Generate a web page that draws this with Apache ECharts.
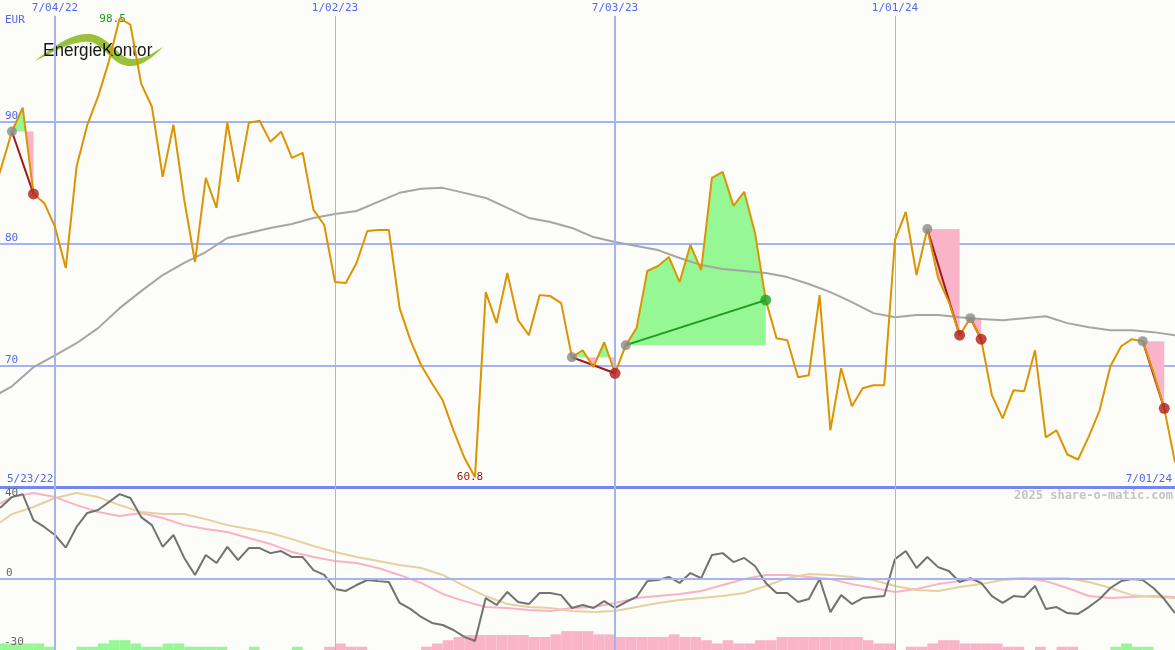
<!DOCTYPE html>
<html><head><meta charset="utf-8">
<script src="https://cdn.jsdelivr.net/npm/echarts@6/dist/echarts.min.js"></script>
<style>html,body{margin:0;padding:0;background:#fcfdf9}#c{width:1175px;height:650px}</style>
</head><body><div id="c"></div>
<script>
// ---------- DATA ----------
// weekly closing prices (EUR), first week 2022-05-23, last week 2024-07-01
const price = [83.6, 86.2, 89.2, 91.15, 84.07, 83.33, 81.36, 77.98, 86.3, 89.75,
 92.06, 94.94, 98.5, 97.98, 93.13, 91.23, 85.47, 89.75, 83.58, 78.48,
 85.39, 82.92, 89.92, 85.06, 89.92, 90.08, 88.35, 89.18, 87.04, 87.45,
 82.76, 81.52, 76.83, 76.75, 78.4, 81.03, 81.11, 81.11, 74.69, 72.06,
 70.0, 68.52, 67.12, 64.65, 62.43, 60.8, 76.01, 73.46, 77.57, 73.7,
 72.47, 75.76, 75.68, 75.1, 70.66, 71.23, 69.84, 71.89, 69.34, 71.65,
 73.05, 77.74, 78.15, 78.89, 76.83, 79.88, 77.82, 85.39, 85.88, 83.09,
 84.24, 80.86, 75.35, 72.22, 72.06, 69.01, 69.18, 75.76, 64.65, 69.75,
 66.63, 68.11, 68.35, 68.35, 80.29, 82.59, 77.41, 81.19, 77.16, 75.19,
 72.47, 73.87, 72.14, 67.53, 65.64, 67.94, 67.86, 71.23, 64.07, 64.65,
 62.67, 62.26, 64.16, 66.3, 69.92, 71.56, 72.14, 71.98, 69.42, 66.46,
 62.02];
// long moving average (every second week)
const maLong = [67.28, 68.27, 69.84, 70.82, 71.81, 73.05, 74.69, 76.09, 77.41, 78.40,
 79.30, 80.45, 80.86, 81.28, 81.60, 82.10, 82.43, 82.67, 83.42, 84.16,
 84.49, 84.57, 84.16, 83.74, 82.92, 82.10, 81.77, 81.28, 80.53, 80.12,
 79.79, 79.46, 78.81, 78.23, 77.90, 77.74, 77.57, 77.24, 76.67, 76.01,
 75.19, 74.28, 73.95, 74.12, 74.12, 73.95, 73.79, 73.70, 73.87, 74.03,
 73.46, 73.13, 72.88, 72.88, 72.72, 72.47];
// trades: [entry week index, exit week index]
const trades = [[2, 4], [54, 58], [59, 72], [87, 90], [91, 92], [107, 109]];
// lower panel: momentum (weekly)
const momentum = [29.1, 31.3, 35.6, 36.9, 25.6, 22.6, 19.1, 13.6, 22.6, 28.7,
 30.0, 33.4, 36.9, 35.2, 26.9, 23.4, 13.9, 19.1, 9.1, 1.7,
 10.4, 6.9, 13.9, 8.2, 13.4, 13.4, 11.2, 12.1, 9.5, 9.5,
 3.8, 1.7, -4.4, -5.3, -2.7, -0.5, -1.0, -1.4, -10.5, -13.1,
 -16.6, -19.2, -20.1, -22.3, -25.3, -27.1, -8.4, -11.4, -5.7, -10.1,
 -11.0, -6.2, -6.2, -7.1, -12.7, -11.4, -12.7, -9.7, -12.7, -10.1,
 -7.9, -1.0, -0.5, 0.8, -1.8, 2.5, 0.3, 10.4, 11.2, 7.3,
 9.1, 5.6, -1.8, -6.2, -6.2, -10.1, -8.8, -0.1, -14.5, -7.1,
 -11.0, -8.4, -7.9, -7.5, 8.6, 12.1, 4.7, 9.5, 5.1, 3.4,
 -1.4, 0.3, -1.8, -7.5, -10.5, -7.5, -7.9, -3.1, -13.1, -12.3,
 -14.9, -15.3, -12.3, -8.8, -4.0, -1.0, -0.1, -0.5, -4.0, -8.8,
 -14.9];
// lower panel smoothed lines (every second week)
const pinkLine = [30.4, 35.6, 37.4, 35.6, 32.1, 29.1, 27.4, 28.7, 26.5, 23.4,
 21.7, 20.4, 17.8, 15.2, 11.7, 9.5, 7.8, 6.9, 4.7, 1.7,
 -1.8, -6.6, -9.7, -12.3, -12.7, -13.6, -14.0, -12.7, -12.3, -10.5,
 -8.4, -7.5, -6.6, -5.3, -2.7, -0.1, 1.7, 1.7, 0.8, -0.1,
 -2.3, -4.0, -5.7, -4.4, -2.3, -1.0, -0.1, -0.1, 0.3, -1.0,
 -4.0, -7.5, -8.4, -7.9, -7.5, -7.9];
const tanLine = [21.7, 28.2, 31.3, 35.2, 37.4, 35.6, 32.1, 29.1, 28.2, 28.2,
 26.0, 23.4, 21.7, 20.0, 17.3, 14.3, 11.7, 9.5, 7.8, 6.0,
 4.7, 1.7, -3.1, -7.5, -11.0, -12.3, -12.7, -14.0, -14.5, -14.0,
 -12.3, -10.5, -9.2, -8.4, -7.5, -6.2, -3.1, 0.3, 2.1, 1.7,
 0.8, -0.5, -3.1, -4.9, -5.3, -3.6, -2.3, -0.5, 0.3, 0.3,
 0.3, -1.4, -4.0, -7.1, -7.9, -8.4];
// lower panel signal bars (weekly; + green, - pink)
const signalBars = [2,2,2,2,2,1,0,0,1,1,
 2,3,3,2,1,1,2,2,1,1,
 1,1,0,0,1,0,0,0,1,0,
 0,-1,-2,-1,-1,0,0,0,0,0,
 -1,-2,-3,-4,-4.6,-4.6,-4.6,-4.6,-4.6,-4.6,
 -4,-4,-4.8,-5.8,-5.8,-5.8,-4.8,-4.8,-4,-4,
 -4,-4,-4,-4.8,-4,-4,-3,-2,-3,-2,
 -2,-3,-3,-4,-4,-4,-4,-4,-4,-4,
 -4,-3,-2,-2,0,-1,-1,-2,-3,-3,
 -2,-2,-2,-2,-1,-1,0,-1,0,-1,
 -1,0,0,0,1,2,1,1,0,0,
 0];
// vertical grid dates and labels
const gridDates = ['2022-07-04', '2023-01-02', '2023-07-03', '2024-01-01'];
const gridLabels = ['7/04/22', '1/02/23', '7/03/23', '1/01/24'];
const firstDateLabel = '5/23/22';
const lastDateLabel = '7/01/24';
const lowerLabels = ['40', '0', '-30'];

// ---------- BUILD ----------
const DAY = 86400000;
const utc = s => { const p = s.split('-').map(Number); return Date.UTC(p[0], p[1] - 1, p[2]); };
const firstWeek = utc('2022-05-23');
const dates = price.map((_, i) => firstWeek + i * 7 * DAY);
const evenDates = dates.filter((_, i) => i % 2 === 0);
const gridTs = gridDates.map(utc);
const gridW = [2, 1, 2, 1];
const xMin = utc('2022-07-04') - 35.75 * DAY;
const xMax = utc('2024-07-01');

const BG = '#fcfdf9';
const GRIDC = '#a6b3f2';
const LBL = '#5566ee';
const MONO = 'DejaVu Sans Mono';

// logo swoosh outline (decorative), sampled cubic beziers
function bez(p0, p1, p2, p3, n) {
  const out = [];
  for (let k = 1; k <= n; k++) {
    const t = k / n, u = 1 - t;
    out.push([u*u*u*p0[0] + 3*u*u*t*p1[0] + 3*u*t*t*p2[0] + t*t*t*p3[0],
              u*u*u*p0[1] + 3*u*u*t*p1[1] + 3*u*t*t*p2[1] + t*t*t*p3[1]]);
  }
  return out;
}
const swoosh = [[35, 61]]
  .concat(bez([35,61],[55,45],[72,33],[90,34],12))
  .concat(bez([90,34],[108,35],[118,58],[131,59],12))
  .concat(bez([131,59],[144,60],[154,52],[163,47],10))
  .concat(bez([163,47],[152,58],[141,67],[128,66],10))
  .concat(bez([128,66],[112,65],[104,44],[90,42],12))
  .concat(bez([90,42],[72,40],[52,53],[35,61],12));

const chart = echarts.init(document.getElementById('c'), null, {renderer: 'canvas'});

const option = {
  backgroundColor: BG,
  animation: false,
  grid: [
    {left: 0, right: 0, top: 0, height: 487},
    {left: 0, right: 0, top: 487, height: 163}
  ],
  xAxis: [
    {type: 'time', gridIndex: 0, min: xMin, max: xMax,
     axisLabel: {show: false}, axisTick: {show: false}, splitLine: {show: false},
     axisLine: {show: true, lineStyle: {color: '#7586ef', width: 3}}},
    {type: 'time', gridIndex: 1, min: xMin, max: xMax,
     axisLabel: {show: false}, axisTick: {show: false}, splitLine: {show: false}, axisLine: {show: false}}
  ],
  yAxis: [
    {type: 'value', gridIndex: 0, min: 60, max: 100, interval: 10,
     axisLine: {show: false}, axisTick: {show: false},
     splitLine: {show: true, showMinLine: false, showMaxLine: false, lineStyle: {color: GRIDC, width: 2}},
     axisLabel: {inside: true, margin: 5, verticalAlign: 'bottom', color: LBL, fontFamily: MONO, fontSize: 11,
       formatter: v => (v === 60 || v === 100) ? '' : String(v)}},
    {type: 'value', gridIndex: 1, min: -31, max: 40,
     axisLine: {show: false}, axisTick: {show: false}, splitLine: {show: false}, axisLabel: {show: false}},
    {type: 'value', gridIndex: 1, min: 0, max: 50,
     axisLine: {show: false}, axisTick: {show: false}, splitLine: {show: false}, axisLabel: {show: false}}
  ],
  graphic: [
    {type: 'group', z: 2, children: [
      {type: 'rect', shape: {x: 33, y: 38, width: 132, height: 30}, style: {fill: BG}},
      {type: 'polygon', shape: {points: swoosh}, style: {fill: '#99c23a'}},
      {type: 'text', x: 43, y: 51, scaleX: 0.9, style: {text: 'EnergieKontor', x: 0, y: 0, fill: '#151515',
        font: '19px "Liberation Sans", sans-serif', verticalAlign: 'middle'}}
    ]},
    {type: 'text', z: 10, style: {text: 'EUR', x: 5, y: 20, fill: LBL, font: '11px ' + MONO, verticalAlign: 'middle'}},
    {type: 'text', z: 10, style: {text: firstDateLabel, x: 7, y: 479, fill: LBL, font: '11px ' + MONO, verticalAlign: 'middle'}},
    {type: 'text', z: 10, style: {text: lastDateLabel, x: 1172, y: 479, fill: LBL, font: '11px ' + MONO, align: 'right', verticalAlign: 'middle'}},
    {type: 'text', z: 10, style: {text: lowerLabels[0], x: 5, y: 493, fill: '#666', font: '11px ' + MONO, verticalAlign: 'middle'}},
    {type: 'text', z: 10, style: {text: lowerLabels[1], x: 6, y: 573, fill: '#666', font: '11px ' + MONO, verticalAlign: 'middle'}},
    {type: 'text', z: 10, style: {text: lowerLabels[2], x: 4, y: 642, fill: '#666', font: '11px ' + MONO, verticalAlign: 'middle'}},
    {type: 'text', z: 10, style: {text: '2025 share-o-matic.com', x: 1173, y: 496, fill: '#c4c4c4',
      font: 'bold 12px ' + MONO, align: 'right', verticalAlign: 'middle'}}
  ],
  series: [
    // trade fills between price and entry level
    {type: 'custom', xAxisIndex: 0, yAxisIndex: 0, z: 1, silent: true, clip: true,
     data: trades.map(t => [dates[t[0]], price[t[0]]]),
     encode: {x: 0, y: 1},
     renderItem: (params, api) => {
       const t = trades[params.dataIndex];
       const e = price[t[0]];
       const children = [];
       [1, -1].forEach(sign => {
         const pts = [api.coord([dates[t[0]], e])];
         for (let i = t[0]; i <= t[1]; i++) {
           if (i > t[0]) {
             const a = price[i - 1] - e, b = price[i] - e;
             if (a * b < 0) {
               const f = a / (a - b);
               pts.push(api.coord([dates[i - 1] + f * (dates[i] - dates[i - 1]), e]));
             }
           }
           const v = sign > 0 ? Math.max(price[i], e) : Math.min(price[i], e);
           pts.push(api.coord([dates[i], v]));
         }
         pts.push(api.coord([dates[t[1]], e]));
         children.push({type: 'polygon', shape: {points: pts}, style: {fill: sign > 0 ? '#95f895' : '#fab4c9'}});
       });
       return {type: 'group', children};
     },
     markLine: {
       silent: true, symbol: ['none', 'none'],
       label: {show: true, position: 'start', distance: 2, color: LBL, fontFamily: MONO, fontSize: 11,
         formatter: p => gridLabels[p.dataIndex]},
       lineStyle: {color: GRIDC, type: 'solid'},
       data: gridTs.map((d, i) => [
         {xAxis: d, yAxis: 98.7, lineStyle: {width: gridW[i], color: GRIDC, type: 'solid'}},
         {xAxis: d, yAxis: 60}
       ])
     }
    },
    // long moving average
    {type: 'line', xAxisIndex: 0, yAxisIndex: 0, z: 3, silent: true, symbol: 'none',
     data: evenDates.map((d, i) => [d, maLong[i]]),
     lineStyle: {color: '#a5a5a5', width: 2}},
    // trade connecting lines
    {type: 'lines', coordinateSystem: 'cartesian2d', xAxisIndex: 0, yAxisIndex: 0, z: 4, silent: true,
     lineStyle: {width: 2, opacity: 1},
     data: trades.map(t => ({
       coords: [[dates[t[0]], price[t[0]]], [dates[t[1]], price[t[1]]]],
       lineStyle: {color: price[t[1]] > price[t[0]] ? '#1f9a1f' : '#a31818', width: 2}
     }))},
    // price
    {type: 'line', xAxisIndex: 0, yAxisIndex: 0, z: 5, silent: true, symbol: 'none',
     data: dates.map((d, i) => [d, price[i]]),
     lineStyle: {color: '#dc9400', width: 2},
     markPoint: {
       silent: true, symbol: 'circle', symbolSize: 0,
       label: {show: true, position: 'inside', fontFamily: MONO, fontSize: 11,
         formatter: p => Number(p.value).toFixed(1)},
       data: [
         {type: 'max', valueDim: 'y', label: {color: '#1a9a1a', offset: [-7, 1]}},
         {type: 'min', valueDim: 'y', label: {color: '#a01818', offset: [-5, 0]}}
       ]
     }},
    // entry markers
    {type: 'scatter', xAxisIndex: 0, yAxisIndex: 0, z: 6, silent: true, symbolSize: 10,
     itemStyle: {color: '#8a8a8a'},
     data: trades.map(t => [dates[t[0]], price[t[0]]])},
    // exit markers
    {type: 'scatter', xAxisIndex: 0, yAxisIndex: 0, z: 7, silent: true, symbolSize: 11,
     data: trades.map(t => ({value: [dates[t[1]], price[t[1]]],
       itemStyle: {color: price[t[1]] > price[t[0]] ? '#22a022' : '#b01c1c'}}))},

    // lower panel: signal bars
    {type: 'custom', xAxisIndex: 1, yAxisIndex: 2, z: 1, silent: true, clip: true,
     data: dates.map((d, i) => [d, Math.abs(signalBars[i])]),
     encode: {x: 0, y: 1},
     renderItem: (params, api) => {
       const i = params.dataIndex;
       const v = signalBars[i];
       if (!v) return null;
       const p0 = api.coord([dates[i], 0]);
       const p1 = api.coord([dates[i] + 7 * DAY, Math.abs(v)]);
       return {type: 'rect', shape: {x: p0[0], y: p1[1], width: p1[0] - p0[0], height: p0[1] - p1[1]},
         style: {fill: v > 0 ? '#95f895' : '#fab4c9'}};
     }},
    {type: 'line', xAxisIndex: 1, yAxisIndex: 1, z: 2, silent: true, symbol: 'none',
     data: evenDates.map((d, i) => [d, pinkLine[i]]),
     lineStyle: {color: '#f9b2c7', width: 2}},
    {type: 'line', xAxisIndex: 1, yAxisIndex: 1, z: 2, silent: true, symbol: 'none',
     data: evenDates.map((d, i) => [d, tanLine[i]]),
     lineStyle: {color: '#e6d0a2', width: 2},
     markLine: {
       silent: true, symbol: ['none', 'none'], label: {show: false},
       lineStyle: {color: GRIDC, type: 'solid'},
       data: gridTs.map((d, i) => ({xAxis: d, lineStyle: {width: gridW[i], color: GRIDC, type: 'solid'}}))
         .concat([{yAxis: 0, lineStyle: {width: 2, color: GRIDC, type: 'solid'}}])
     }},
    {type: 'line', xAxisIndex: 1, yAxisIndex: 1, z: 3, silent: true, symbol: 'none',
     data: dates.map((d, i) => [d, momentum[i]]),
     lineStyle: {color: '#727272', width: 2}}
  ]
};
chart.setOption(option);
</script></body></html>
